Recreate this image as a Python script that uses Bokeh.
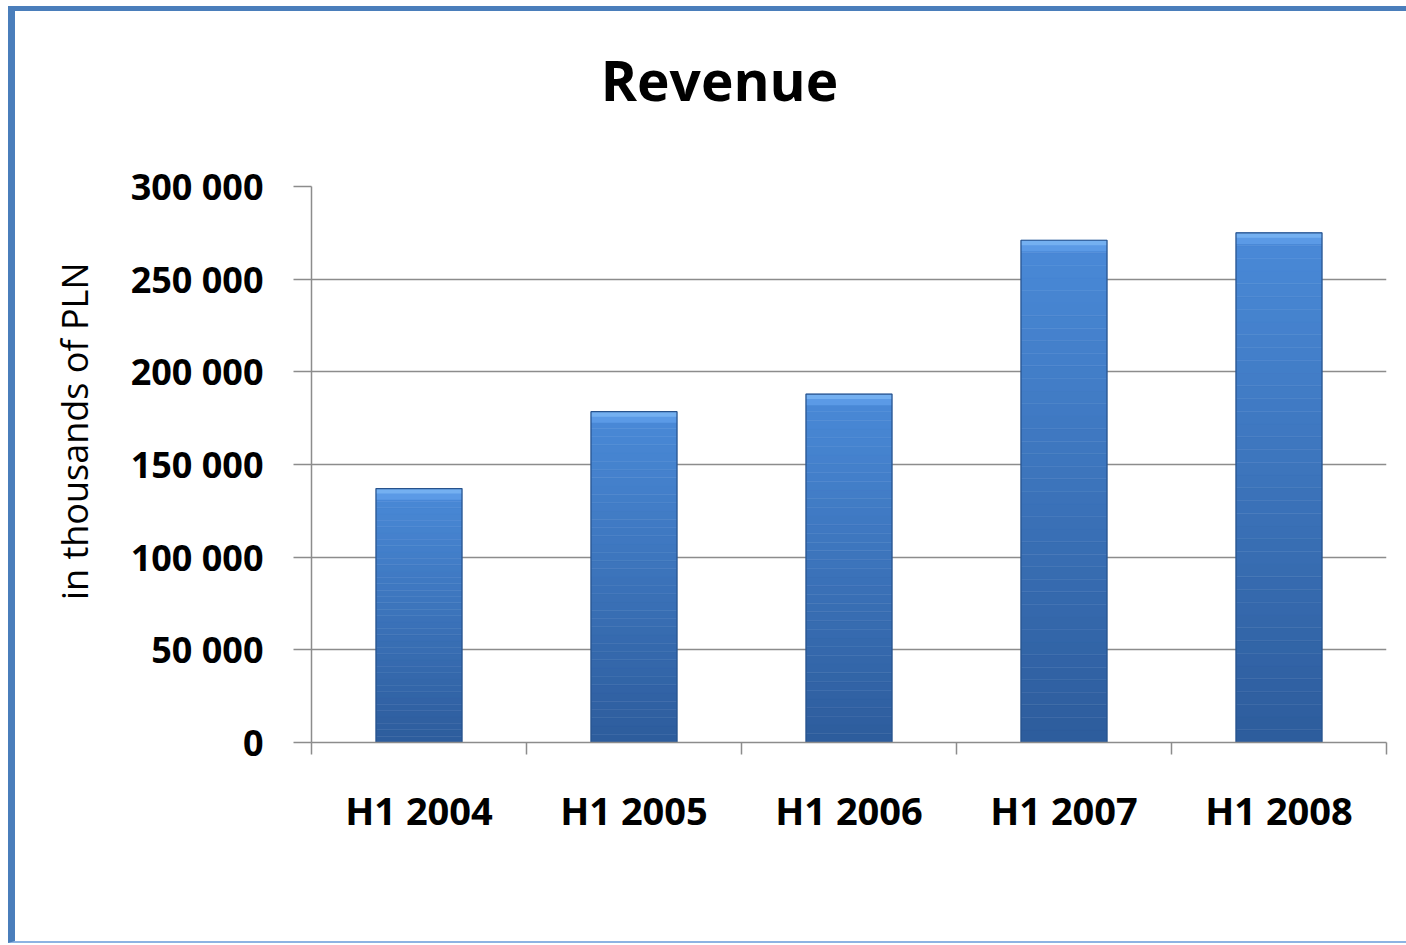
from bokeh.plotting import figure
from bokeh.models import FixedTicker, Range1d, ColumnDataSource, Title, Div
from bokeh.layouts import column
from bokeh.embed import file_html
from bokeh.resources import INLINE

# ---- data ----
categories = ["H1 2004", "H1 2005", "H1 2006", "H1 2007", "H1 2008"]
revenue = [137000, 178500, 188000, 271000, 275000]
y_ticks = [0, 50000, 100000, 150000, 200000, 250000, 300000]
y_tick_labels = ["0", "50 000", "100 000", "150 000", "200 000", "250 000", "300 000"]
title_text = "Revenue"
y_title = "in thousands of PLN"

FONT = "Open Sans"
BORDER = "#4a7ebb"
n = len(categories)
centers = [i + 0.5 for i in range(n)]

title_div = Div(
    text=('<div style="font-family:\'Open Sans\';font-size:55px;font-weight:bold;'
          'color:#000000;text-align:center;width:1391px;box-sizing:border-box;'
          'padding-left:18px;height:142px;line-height:138px;">%s</div>' % title_text),
    width=1398, height=147, margin=0,
    styles={"border-left": "7px solid " + BORDER, "border-top": "5px solid " + BORDER,
            "background-color": "white"})

p = figure(width=1398, height=790, output_backend="svg", toolbar_location=None,
           x_range=Range1d(0, n), y_range=Range1d(0, 300000),
           min_border_left=296, min_border_top=33, min_border_right=27,
           min_border_bottom=201, margin=0)
p.styles = {"border-left": "7px solid " + BORDER, "border-bottom": "2px solid #8db3e2"}
p.outline_line_color = None
p.background_fill_color = "white"
p.border_fill_color = "white"

# gradient bars: slices from bottom (dark) to top (light)
N = 40
def lerp(c1, c2, t):
    return "#%02x%02x%02x" % tuple(int(round(a + (b - a) * t)) for a, b in zip(c1, c2))
dark = (0x2d, 0x5c, 0x9c)
light = (0x4a, 0x8a, 0xd8)
xs, bots, tops, cols = [], [], [], []
for c, v in zip(centers, revenue):
    for k in range(N):
        xs.append(c)
        bots.append(v * k / N)
        tops.append(v * (k + 1) / N)
        cols.append(lerp(dark, light, (k + 0.5) / N))
src = ColumnDataSource(dict(x=xs, bottom=bots, top=tops, color=cols))
p.vbar(x="x", bottom="bottom", top="top", width=0.4, fill_color="color",
       line_color="color", line_width=0.5, source=src)

# bevel cap
cap = 6000
src_cap = ColumnDataSource(dict(x=centers, bottom=[v - cap for v in revenue], top=revenue))
p.vbar(x="x", bottom="bottom", top="top", width=0.4, fill_color="#5b9ae6",
       line_color=None, source=src_cap)
src_cap2 = ColumnDataSource(dict(x=centers, bottom=[v - cap * 0.45 for v in revenue], top=revenue))
p.vbar(x="x", bottom="bottom", top="top", width=0.4, fill_color="#74b0f1",
       line_color=None, source=src_cap2)
# bar outline
src_out = ColumnDataSource(dict(x=centers, top=revenue))
p.vbar(x="x", bottom=0, top="top", width=0.4, fill_color=None,
       line_color="#27528c", line_width=1.2, source=src_out)

# axes
p.xgrid.grid_line_color = None
p.ygrid.grid_line_color = "#8c8c8c"
p.ygrid.grid_line_width = 1.5
p.ygrid.ticker = FixedTicker(ticks=y_ticks)

xa = p.xaxis[0]
xa.ticker = FixedTicker(ticks=centers, minor_ticks=list(range(n + 1)))
xa.major_label_overrides = {c: lab for c, lab in zip(centers, categories)}
xa.major_tick_line_color = None
xa.minor_tick_line_color = "#8c8c8c"
xa.minor_tick_out = 12
xa.minor_tick_in = 0
xa.minor_tick_line_width = 1.5
xa.axis_line_color = "#8c8c8c"
xa.axis_line_width = 1.5
xa.major_label_text_font = FONT
xa.major_label_text_font_size = "38px"
xa.major_label_text_font_style = "bold"
xa.major_label_text_color = "#000000"
xa.major_label_standoff = 29

ya = p.yaxis[0]
ya.ticker = FixedTicker(ticks=y_ticks)
ya.major_label_overrides = {t: lab for t, lab in zip(y_ticks, y_tick_labels)}
ya.minor_tick_line_color = None
ya.major_tick_line_color = "#8c8c8c"
ya.major_tick_line_width = 1.5
ya.major_tick_out = 18
ya.major_tick_in = 0
ya.axis_line_color = "#8c8c8c"
ya.axis_line_width = 1.5
ya.major_label_text_font = FONT
ya.major_label_text_font_size = "36px"
ya.major_label_text_font_style = "bold"
ya.major_label_text_color = "#000000"
ya.major_label_standoff = 30

# y-axis title as a left-side title
ytitle = Title(text=y_title, align="right", offset=76, standoff=58,
               text_font=FONT, text_font_size="36px", text_font_style="normal",
               text_color="#000000")
p.add_layout(ytitle, "left")

layout = column(title_div, p, spacing=0,
                styles={"margin-left": "8px", "margin-top": "6px"})

open("out.html", "w").write(file_html(layout, INLINE))
